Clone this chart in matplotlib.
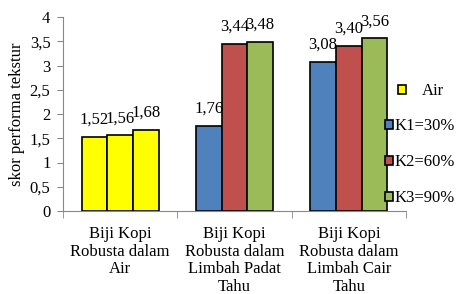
import matplotlib
matplotlib.use("Agg")
import matplotlib.pyplot as plt
from matplotlib.patches import Patch
import numpy as np

categories = ["Biji Kopi\nRobusta dalam\nAir",
              "Biji Kopi\nRobusta dalam\nLimbah Padat\nTahu",
              "Biji Kopi\nRobusta dalam\nLimbah Cair\nTahu"]
series_names = ["Air", "K1=30%", "K2=60%", "K3=90%"]
colors = ["#FFFF00", "#4F81BD", "#C0504D", "#9BBB59"]
# values per group (3 bars each)
group_values = [[1.52, 1.56, 1.68],
                [1.76, 3.44, 3.48],
                [3.08, 3.40, 3.56]]
group_colors = [["#FFFF00", "#FFFF00", "#FFFF00"],
                ["#4F81BD", "#C0504D", "#9BBB59"],
                ["#4F81BD", "#C0504D", "#9BBB59"]]
yticks = [0, 0.5, 1, 1.5, 2, 2.5, 3, 3.5, 4]
ytick_labels = ["0", "0,5", "1", "1,5", "2", "2,5", "3", "3,5", "4"]

plt.rcParams['font.family'] = ['Liberation Serif', 'DejaVu Serif']
FS = 12

fig = plt.figure(figsize=(4.62, 2.94), dpi=100)
ax = fig.add_axes([63/462, 1-211/294, (406-63)/462, (211-17)/294])

w = 0.225
for i, (vals, cols) in enumerate(zip(group_values, group_colors)):
    for j, (v, c) in enumerate(zip(vals, cols)):
        x = i + (j - 1) * w
        ax.bar(x, v, width=w, color=c, edgecolor="black", linewidth=1.2)
        ax.annotate(f"{v:.2f}".replace(".", ","), (x, v), xytext=(0, 9.5),
                    textcoords="offset points", ha="center", va="baseline",
                    fontsize=FS)

ax.set_xlim(-0.5, 2.5)
ax.set_ylim(0, 4)
ax.set_yticks(yticks)
ax.set_yticklabels(ytick_labels, fontsize=FS)
ax.set_xticks([0, 1, 2])
ax.set_xticklabels(categories, fontsize=FS, linespacing=1.13)
ax.tick_params(axis="x", length=0, pad=11)
ax.set_xticks([-0.5, 0.5, 1.5, 2.5], minor=True)
ax.tick_params(axis="x", which="minor", length=5, color="#888888", direction="out")
ax.tick_params(axis="y", length=4, color="#888888", direction="out", pad=5)
for s in ["top", "right"]:
    ax.spines[s].set_visible(False)
for s in ["left", "bottom"]:
    ax.spines[s].set_color("#888888")
ax.set_ylabel("skor performa tekstur", fontsize=FS, labelpad=3)

handles = [Patch(facecolor=c, edgecolor="black", linewidth=1.2) for c in colors]
leg1 = fig.legend(handles[:1], series_names[:1], loc="center left",
                  bbox_to_anchor=(398/462, 1-91/294),
                  frameon=False, fontsize=FS, handlelength=0.45, handleheight=0.45,
                  handletextpad=1.0, borderaxespad=0, borderpad=0)
leg2 = fig.legend(handles[1:], series_names[1:], loc="center left",
                  bbox_to_anchor=(385/462, 1-162/294),
                  frameon=False, fontsize=FS, handlelength=0.45, handleheight=0.45,
                  handletextpad=0.15, labelspacing=1.2, borderaxespad=0, borderpad=0)

fig.savefig("out.png", dpi=100)
